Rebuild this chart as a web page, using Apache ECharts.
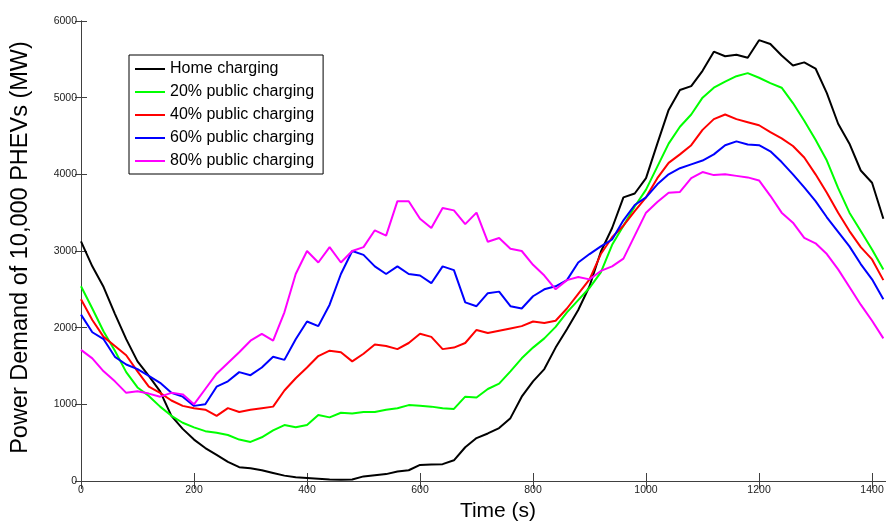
<!DOCTYPE html>
<html>
<head>
<meta charset="utf-8">
<script src="https://cdn.jsdelivr.net/npm/echarts@6/dist/echarts.min.js"></script>
<style>
  html, body { margin: 0; padding: 0; background: #fff; }
  #chart { width: 886px; height: 523px; }
</style>
</head>
<body>
<div id="chart"></div>
<script>
// Time stamps (s)
const timeSec = [0, 20, 40, 60, 80, 100, 120, 140, 160, 180, 200, 220, 240, 260, 280, 300, 320, 340, 360,
  380, 400, 420, 440, 460, 480, 500, 520, 540, 560, 580, 600, 620, 640, 660, 680, 700, 720, 740,
  760, 780, 800, 820, 840, 860, 880, 900, 920, 940, 960, 980, 1000,
  1020, 1040, 1060, 1080, 1100, 1120, 1140, 1160, 1180, 1200, 1220, 1240, 1260, 1280, 1300, 1320, 1340, 1360, 1380, 1400, 1420];

// Power demand (MW) for each charging scenario
const homeCharging = [3125, 2800, 2530, 2180, 1850, 1560, 1370, 1170, 850, 680, 540, 430, 340, 250, 180, 165, 140, 105, 70,
  50, 40, 30, 20, 15, 20, 60, 75, 90, 125, 140, 210, 215, 220, 270, 440, 560, 620, 690,
  820, 1100, 1300, 1460, 1740, 1980, 2230, 2540, 2990, 3300, 3700, 3750, 3950,
  4400, 4840, 5100, 5150, 5350, 5600, 5540, 5560, 5520, 5750, 5700, 5550, 5420, 5460, 5380, 5060, 4660, 4400, 4050, 3890, 3420];

const public20 = [2540, 2250, 1950, 1700, 1420, 1220, 1110, 970, 850, 760, 700, 650, 630, 600, 540, 510, 570, 660, 730,
  700, 730, 860, 830, 890, 880, 900, 900, 930, 950, 990, 980, 970, 950, 940, 1100, 1090, 1200, 1270,
  1430, 1600, 1740, 1860, 2010, 2200, 2360, 2520, 2720, 3080, 3330, 3580, 3800,
  4100, 4400, 4620, 4780, 5000, 5130, 5210, 5280, 5320, 5260, 5190, 5130, 4930, 4700, 4450, 4180, 3820, 3500, 3260, 3020, 2760];

const public40 = [2370, 2100, 1880, 1760, 1640, 1430, 1230, 1150, 1050, 980, 950, 930, 850, 950, 900, 930, 950, 970, 1180,
  1340, 1480, 1630, 1700, 1680, 1560, 1660, 1780, 1760, 1720, 1800, 1920, 1880, 1720, 1740, 1800, 1970, 1930, 1960,
  1990, 2020, 2080, 2060, 2090, 2250, 2440, 2630, 2960, 3180, 3330, 3520, 3700,
  3950, 4150, 4260, 4380, 4580, 4720, 4780, 4720, 4680, 4640, 4550, 4470, 4370, 4220, 4000, 3760, 3500, 3260, 3050, 2890, 2620];

const public60 = [2170, 1940, 1850, 1620, 1520, 1460, 1370, 1280, 1150, 1100, 980, 1000, 1230, 1300, 1420, 1380, 1480, 1620, 1580,
  1850, 2080, 2020, 2300, 2700, 3000, 2950, 2800, 2700, 2800, 2700, 2680, 2580, 2800, 2750, 2330, 2280, 2450, 2470,
  2280, 2250, 2410, 2500, 2540, 2620, 2850, 2960, 3060, 3150, 3400, 3600, 3700,
  3870, 4000, 4080, 4130, 4180, 4260, 4380, 4430, 4390, 4380, 4300, 4160, 4000, 3830, 3650, 3440, 3250, 3060, 2830, 2630, 2370];

const public80 = [1710, 1600, 1430, 1300, 1150, 1170, 1140, 1100, 1150, 1130, 1000, 1200, 1400, 1540, 1680, 1830, 1920, 1830, 2200,
  2700, 3000, 2850, 3050, 2850, 3000, 3050, 3270, 3200, 3650, 3650, 3420, 3300, 3560, 3530, 3350, 3500, 3120, 3170,
  3030, 3000, 2820, 2680, 2500, 2620, 2660, 2630, 2740, 2800, 2900, 3200, 3500,
  3640, 3760, 3770, 3950, 4030, 3990, 4000, 3980, 3960, 3920, 3720, 3500, 3370, 3170, 3100, 2960, 2760, 2530, 2300, 2090, 1860];

const seriesNames = ['Home charging', '20% public charging', '40% public charging', '60% public charging', '80% public charging'];
const seriesColors = ['#000000', '#00ff00', '#ff0000', '#0000ff', '#ff00ff'];
const seriesValues = [homeCharging, public20, public40, public60, public80];

const xTicks = [0, 200, 400, 600, 800, 1000, 1200, 1400];
const yTicks = [0, 1000, 2000, 3000, 4000, 5000, 6000];

const tickFont = { fontFamily: 'Liberation Sans', fontSize: 10.5, color: '#222', formatter: v => String(v) };
const axisLineStyle = { color: '#404040', width: 1 };

const chart = echarts.init(document.getElementById('chart'), null, { renderer: 'canvas' });

chart.setOption({
  animation: false,
  backgroundColor: '#ffffff',
  grid: { left: 81, right: -3, top: 21, bottom: 42, outerBoundsMode: 'none' },
  legend: {
    data: seriesNames,
    orient: 'vertical',
    left: 129,
    top: 55,
    padding: [6, 9, 5, 6],
    itemWidth: 30,
    itemHeight: 2,
    itemGap: 7,
    icon: 'rect',
    borderColor: '#000',
    borderWidth: 1,
    borderRadius: 0,
    backgroundColor: '#fff',
    textStyle: { fontFamily: 'Liberation Sans', fontSize: 16, color: '#000', lineHeight: 16 }
  },
  xAxis: [
    {
      type: 'value', min: xTicks[0], max: 1430, interval: 200,
      position: 'bottom',
      name: 'Time (s)', nameLocation: 'middle', nameGap: 16,
      nameTextStyle: { fontFamily: 'Liberation Sans', fontSize: 21, color: '#000', padding: [0, 0, 0, 26] },
      axisLine: { show: true, lineStyle: axisLineStyle },
      axisTick: { show: true, inside: true, length: 8, lineStyle: axisLineStyle },
      axisLabel: Object.assign({ margin: 4, showMaxLabel: false }, tickFont),
      splitLine: { show: false }
    },
    {
      type: 'value', min: xTicks[0], max: 1430, interval: 200,
      position: 'top',
      axisLine: { show: true, lineStyle: axisLineStyle },
      axisTick: { show: true, inside: true, length: 8, lineStyle: axisLineStyle },
      axisLabel: { show: false },
      splitLine: { show: false }
    }
  ],
  yAxis: [
    {
      type: 'value', min: yTicks[0], max: yTicks[yTicks.length - 1], interval: 1000,
      position: 'left',
      name: 'Power Demand of 10,000 PHEVs (MW)', nameLocation: 'middle', nameGap: 48, nameRotate: 90,
      nameTextStyle: { fontFamily: 'Liberation Sans', fontSize: 23.5, color: '#000', padding: [0, 0, 0, 7] },
      axisLine: { show: true, lineStyle: axisLineStyle },
      axisTick: { show: true, inside: true, length: 6, lineStyle: axisLineStyle },
      axisLabel: Object.assign({ margin: 4 }, tickFont),
      splitLine: { show: false }
    },
    {
      type: 'value', min: yTicks[0], max: yTicks[yTicks.length - 1], interval: 1000,
      position: 'right',
      axisLine: { show: true, lineStyle: axisLineStyle },
      axisTick: { show: true, inside: true, length: 6, lineStyle: axisLineStyle },
      axisLabel: { show: false },
      splitLine: { show: false }
    }
  ],
  series: seriesNames.map((name, i) => ({
    name: name,
    type: 'line',
    xAxisIndex: 0,
    yAxisIndex: 0,
    showSymbol: false,
    symbol: 'none',
    color: seriesColors[i],
    lineStyle: { color: seriesColors[i], width: 2 },
    data: timeSec.map((t, k) => [t, seriesValues[i][k]])
  }))
});
</script>
</body>
</html>
